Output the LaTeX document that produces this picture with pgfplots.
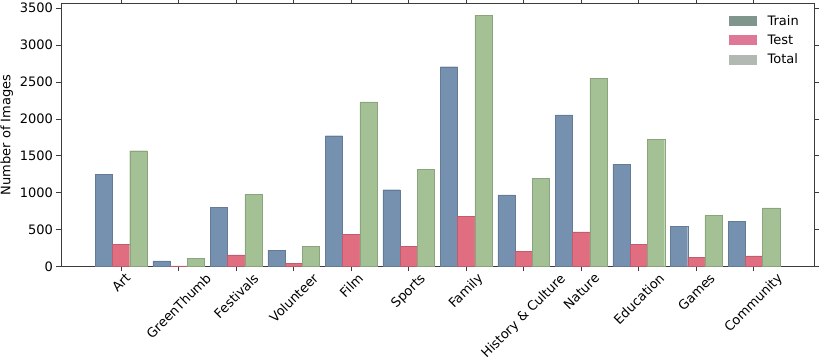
\documentclass[border=0pt]{standalone}
\usepackage{pgfplots}
\pgfplotsset{compat=1.18}
\usepackage{pgfplotstable}
\usepackage{fontspec}
\setmainfont{DejaVu Sans}
\definecolor{trainc}{RGB}{118,145,176}
\definecolor{testc}{RGB}{224,110,128}
\definecolor{totalc}{RGB}{163,193,148}
\definecolor{trainl}{RGB}{128,150,140}
\definecolor{testl}{RGB}{222,120,150}
\definecolor{totall}{RGB}{178,184,178}
\definecolor{axc}{RGB}{60,60,60}
\pgfplotstableread{
x train test total
0 1250 305 1570
1 78 10 110
2 805 160 975
3 224 41 273
4 1773 442 2230
5 1042 273 1315
6 2707 682 3405
7 974 205 1200
8 2056 473 2547
9 1387 305 1724
10 546 123 692
11 610 146 797
}\data
\newcommand{\fs}{\fontsize{13}{15}\selectfont}
\begin{document}
\begin{tikzpicture}
\useasboundingbox (0,0) rectangle (820pt,364pt);
\begin{axis}[
  at={(61pt,97.3pt)}, anchor=south west,
  width=753pt, height=263.7pt, scale only axis,
  xmin=-1.045, xmax=12.045, ymin=0, ymax=3570,
  axis line style={axc, line width=0.9pt},
  tick style={axc, line width=0.9pt},
  tick align=outside, major tick length=4.5pt,
  xtick={0,...,11},
  xticklabels={\rotatebox{45}{Art},\rotatebox{45}{GreenThumb},\rotatebox{45}{Festivals},\rotatebox{45}{Volunteer},\rotatebox{45}{Film},\rotatebox{45}{Sports},\rotatebox{45}{Family},\rotatebox{45}{History \& Culture},\rotatebox{45}{Nature},\rotatebox{45}{Education},\rotatebox{45}{Games},\rotatebox{45}{Community}},
  xticklabel style={anchor=north, font=\fs, inner sep=0pt, yshift=-1pt},
  ytick={0,500,...,3500},
  yticklabel style={font=\fs},
  scaled ticks=false,
  /pgf/number format/1000 sep={},
  /pgf/number format/assume math mode=true,
  ylabel={Number of Images},
  ylabel style={font=\fs},
  legend style={draw=none, fill=none, at={(rel axis cs:1,1)}, anchor=north east, xshift=-13pt, yshift=-10pt, font=\fs, row sep=4pt, column sep=9pt, inner sep=0pt},
  legend cell align=left,
  ybar, bar width=0.3, bar shift=0pt,
]
\addplot[fill=trainc, draw=trainc!85!black, line width=0.4pt, legend image code/.code={\fill[trainl] (0pt,-4.5pt) rectangle (27pt,4.5pt);}] table[x expr=\thisrow{x}-0.3, y=train] {\data};
\addlegendentry{Train}
\addplot[fill=testc, draw=testc!85!black, line width=0.4pt, legend image code/.code={\fill[testl] (0pt,-4.5pt) rectangle (27pt,4.5pt);}] table[x=x, y=test] {\data};
\addlegendentry{Test}
\addplot[fill=totalc, draw=totalc!85!black, line width=0.4pt, legend image code/.code={\fill[totall] (0pt,-4.5pt) rectangle (27pt,4.5pt);}] table[x expr=\thisrow{x}+0.3, y=total] {\data};
\addlegendentry{Total}
\end{axis}
\end{tikzpicture}
\end{document}
